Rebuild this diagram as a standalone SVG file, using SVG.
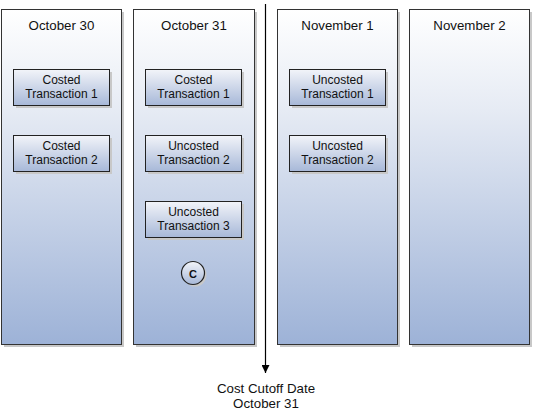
<svg xmlns="http://www.w3.org/2000/svg" width="534" height="413" viewBox="0 0 534 413">
<defs>
<linearGradient id="colG" x1="0" y1="0" x2="0" y2="1">
<stop offset="0" stop-color="#ffffff"/>
<stop offset="0.3" stop-color="#e6ebf4"/>
<stop offset="1" stop-color="#9db2d7"/>
</linearGradient>
<linearGradient id="boxG" x1="0" y1="0" x2="0" y2="1">
<stop offset="0" stop-color="#f2f4f9"/>
<stop offset="1" stop-color="#a7b8d8"/>
</linearGradient>
<marker id="arr" viewBox="0 0 10 10" refX="10" refY="5" markerWidth="8" markerHeight="8" markerUnits="userSpaceOnUse" orient="auto">
<path d="M0,0 L10,5 L0,10 Z" fill="#000"/>
</marker>
</defs>
<style>
.col{fill:url(#colG);stroke:#333;stroke-width:1}
.sh{fill:#c8c8c8}
.box{fill:url(#boxG);stroke:#222;stroke-width:1}
text{font-family:"Liberation Sans",Arial,sans-serif;fill:#111;text-anchor:middle}
.hd{font-size:13.3px}
.bt{font-size:12px}
</style>
<g id="col-oct30">
<rect class="sh" x="4" y="12" width="120" height="335"/>
<rect class="col" x="1.5" y="9.5" width="120" height="335"/>
<text class="hd" x="61.5" y="30">October 30</text>
</g>
<g id="col-oct31">
<rect class="sh" x="136" y="12" width="121" height="335"/>
<rect class="col" x="133.5" y="9.5" width="121" height="335"/>
<text class="hd" x="194" y="30">October 31</text>
</g>
<g id="col-nov1">
<rect class="sh" x="280" y="12" width="120" height="335"/>
<rect class="col" x="277.5" y="9.5" width="120" height="335"/>
<text class="hd" x="337.5" y="30">November 1</text>
</g>
<g id="col-nov2">
<rect class="sh" x="412" y="12" width="120" height="335"/>
<rect class="col" x="409.5" y="9.5" width="120" height="335"/>
<text class="hd" x="469.5" y="30">November 2</text>
</g>
<g id="oct30-t1">
<rect class="sh" x="16" y="72" width="96" height="36"/>
<rect class="box" x="13.5" y="69.5" width="96" height="36"/>
<text class="bt" x="61.5" y="84">Costed</text>
<text class="bt" x="61.5" y="98">Transaction 1</text>
</g>
<g id="oct30-t2">
<rect class="sh" x="16" y="138" width="96" height="36"/>
<rect class="box" x="13.5" y="135.5" width="96" height="36"/>
<text class="bt" x="61.5" y="150">Costed</text>
<text class="bt" x="61.5" y="164">Transaction 2</text>
</g>
<g id="oct31-t1">
<rect class="sh" x="148" y="72" width="96" height="36"/>
<rect class="box" x="145.5" y="69.5" width="96" height="36"/>
<text class="bt" x="193.5" y="84">Costed</text>
<text class="bt" x="193.5" y="98">Transaction 1</text>
</g>
<g id="oct31-t2">
<rect class="sh" x="148" y="138" width="96" height="36"/>
<rect class="box" x="145.5" y="135.5" width="96" height="36"/>
<text class="bt" x="193.5" y="150">Uncosted</text>
<text class="bt" x="193.5" y="164">Transaction 2</text>
</g>
<g id="oct31-t3">
<rect class="sh" x="148" y="204" width="96" height="36"/>
<rect class="box" x="145.5" y="201.5" width="96" height="36"/>
<text class="bt" x="193.5" y="216">Uncosted</text>
<text class="bt" x="193.5" y="230">Transaction 3</text>
</g>
<g id="circle-c">
<circle cx="195" cy="275" r="11.5" fill="#c8c8c8"/>
<circle cx="193" cy="273" r="11.5" fill="url(#boxG)" stroke="#222" stroke-width="1.2"/>
<text x="193" y="277.5" style="font-size:11px;font-weight:bold">C</text>
</g>
<g id="nov1-t1">
<rect class="sh" x="292" y="72" width="96" height="36"/>
<rect class="box" x="289.5" y="69.5" width="96" height="36"/>
<text class="bt" x="337.5" y="84">Uncosted</text>
<text class="bt" x="337.5" y="98">Transaction 1</text>
</g>
<g id="nov1-t2">
<rect class="sh" x="292" y="138" width="96" height="36"/>
<rect class="box" x="289.5" y="135.5" width="96" height="36"/>
<text class="bt" x="337.5" y="150">Uncosted</text>
<text class="bt" x="337.5" y="164">Transaction 2</text>
</g>
<g id="connectors">
<line x1="265.5" y1="4" x2="265.5" y2="373" stroke="#000" stroke-width="1.2" marker-end="url(#arr)"/>
</g>
<g id="cutoff-label">
<text class="hd" x="266" y="393">Cost Cutoff Date</text>
<text class="hd" x="266" y="408">October 31</text>
</g>
</svg>
